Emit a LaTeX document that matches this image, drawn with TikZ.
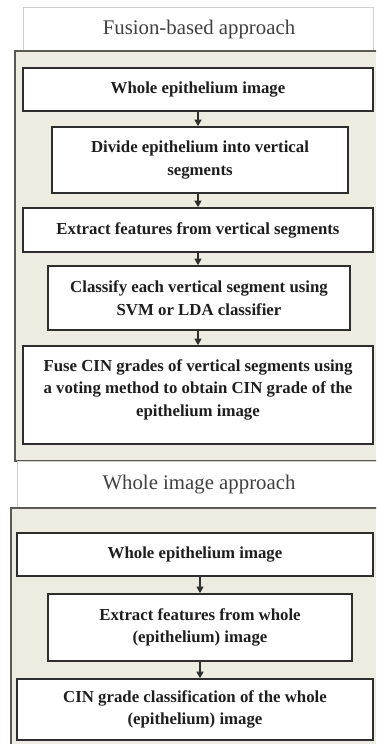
\documentclass[tikz,border=0pt]{standalone}
\usepackage{fontspec}
\setmainfont{Liberation Serif}
\usetikzlibrary{arrows.meta}

% Colours of the two panels
\definecolor{panelfill}{HTML}{EEECE1}
\definecolor{panelline}{HTML}{5A5A55}
\definecolor{boxline}{HTML}{2E2E2E}
\definecolor{titleline}{HTML}{CFCFCF}
\definecolor{textdark}{HTML}{1E1E1E}

\begin{document}
\begin{tikzpicture}[x=1pt,y=-1pt,
    stepbox/.style={draw=boxline,line width=1.7pt,fill=white,align=center,inner sep=0pt,
      font=\fontsize{16.8}{22.5}\selectfont\bfseries,text=textdark},
    headbox/.style={draw=titleline,line width=0.8pt,fill=white},
    headtext/.style={font=\fontsize{20.8}{25}\selectfont,text=textdark!85},
    flow/.style={line width=1.3pt,draw=boxline,-{Triangle[width=7pt,length=6.5pt]}}]
  \useasboundingbox (0,0) rectangle (376,744);
  \clip (0,0) rectangle (376,744);
  \fill[white] (0,0) rectangle (376,744);

  % Fusion-based approach
  \draw[headbox] (23,7) rectangle (373,51);
  \node[headtext] (fusiontitle) at (199,29) {Fusion-based approach};
  \draw[panelline,line width=1.8pt,fill=panelfill] (15,51) rectangle (385,461);

  \node[stepbox,minimum width=350,minimum height=43] (whole) at (198,89.5) {Whole epithelium image};
  \node[stepbox,minimum width=296,minimum height=66] (divide) at (200,160) {Divide epithelium into vertical\\segments};
  \node[stepbox,minimum width=350,minimum height=44] (extract) at (198,230) {Extract features from vertical segments};
  \node[stepbox,minimum width=302,minimum height=64] (classify) at (199,298) {Classify each vertical segment using\\SVM or LDA classifier};
  \node[stepbox,minimum width=350,minimum height=98,text depth=14pt] (fuse) at (198,395) {Fuse CIN grades of vertical segments using\\a voting method to obtain CIN grade of the\\epithelium image};

  \draw[flow] (whole.south) -- (whole.south |- divide.north);
  \draw[flow] (whole.south |- divide.south) -- (whole.south |- extract.north);
  \draw[flow] (whole.south |- extract.south) -- (whole.south |- classify.north);
  \draw[flow] (whole.south |- classify.south) -- (whole.south |- fuse.north);

  % Whole image approach
  \draw[headbox] (17,461) rectangle (385,508);
  \node[headtext] (wholetitle) at (199,485) {Whole image approach};
  \draw[panelline,line width=1.5pt,fill=panelfill] (11,508) rectangle (385,760);

  \node[stepbox,minimum width=356,minimum height=43] (wholeimg) at (195,554.5) {Whole epithelium image};
  \node[stepbox,minimum width=304,minimum height=67] (features) at (200,627.5) {Extract features from whole\\(epithelium) image};
  \node[stepbox,minimum width=356,minimum height=61] (grade) at (195,709.5) {CIN grade classification of the whole\\(epithelium) image};

  \draw[flow] (wholeimg.south -| features.north) -- (features.north);
  \draw[flow] (features.south) -- (features.south |- grade.north);
\end{tikzpicture}
\end{document}
